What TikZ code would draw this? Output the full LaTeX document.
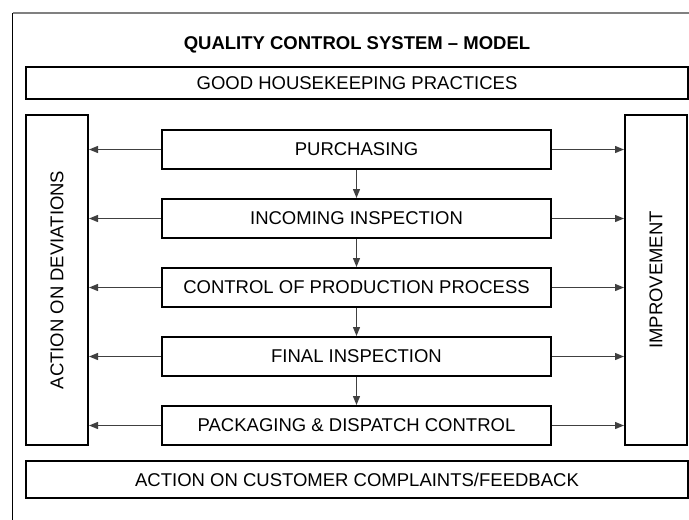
\documentclass[tikz,border=0pt]{standalone}
\usepackage{fontspec}
\setmainfont{Liberation Sans}
\usetikzlibrary{arrows.meta}

\begin{document}
\begin{tikzpicture}[x=1pt, y=-1pt]
\useasboundingbox (0,0) rectangle (689,520);
\tikzstyle{every node} = [draw, line width=2pt, inner sep=0pt, font=\fontsize{18.5}{22}\selectfont]
\tikzstyle{stage} = [minimum width=389, minimum height=39]
\tikzstyle{link} = [line width=1.2pt, draw=black!75, -{Triangle[length=9pt, width=7pt]}]
% outer frame, cut off at right and bottom
\coordinate (ftl) at (12.5,13);
\draw[black!50, line width=1.5pt] (ftl) -- (689,13);
\draw[line width=1.2pt] (ftl) -- (12.5,520);
\node[draw=none, font=\bfseries\fontsize{18.5}{22}\selectfont] (title) at (357,45) {QUALITY CONTROL SYSTEM -- MODEL};
\node[minimum width=662, minimum height=32] (ghp) at (357,83) {GOOD HOUSEKEEPING PRACTICES};
\node[rotate=90, minimum width=330, minimum height=62] (dev) at (57,280) {ACTION ON DEVIATIONS};
\node[rotate=90, minimum width=330, minimum height=62] (imp) at (656,280) {IMPROVEMENT};
\node[stage] (pur) at (356.5,149.5) {PURCHASING};
\node[stage] (inc) at (356.5,218.5) {INCOMING INSPECTION};
\node[stage] (ctl) at (356.5,287.5) {CONTROL OF PRODUCTION PROCESS};
\node[stage] (fin) at (356.5,356.5) {FINAL INSPECTION};
\node[stage] (pkg) at (356.5,425.5) {PACKAGING \& DISPATCH CONTROL};
\node[minimum width=662, minimum height=37] (cust) at (357,479.5) {ACTION ON CUSTOMER COMPLAINTS/FEEDBACK};
% flow down the stages
\draw[link] (pur) -- (inc);
\draw[link] (inc) -- (ctl);
\draw[link] (ctl) -- (fin);
\draw[link] (fin) -- (pkg);
% out to the side boxes
\draw[link] (pur.west) -- (pur.west -| dev.south);
\draw[link] (inc.west) -- (inc.west -| dev.south);
\draw[link] (ctl.west) -- (ctl.west -| dev.south);
\draw[link] (fin.west) -- (fin.west -| dev.south);
\draw[link] (pkg.west) -- (pkg.west -| dev.south);
\draw[link] (pur.east) -- (pur.east -| imp.north);
\draw[link] (inc.east) -- (inc.east -| imp.north);
\draw[link] (ctl.east) -- (ctl.east -| imp.north);
\draw[link] (fin.east) -- (fin.east -| imp.north);
\draw[link] (pkg.east) -- (pkg.east -| imp.north);
\end{tikzpicture}
\end{document}
